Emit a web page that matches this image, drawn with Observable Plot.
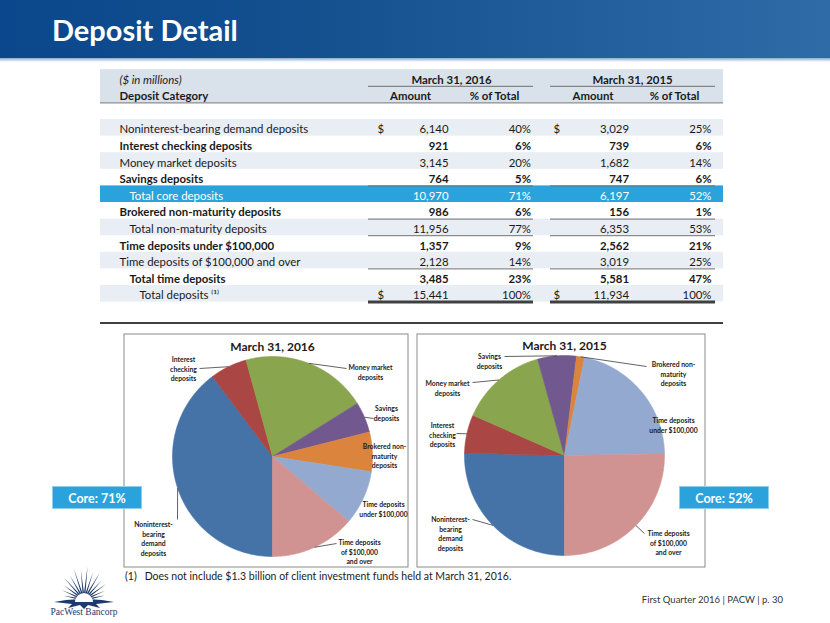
<!DOCTYPE html>
<html>
<head>
<meta charset="utf-8">
<script src="https://cdn.jsdelivr.net/npm/d3@7"></script>
<script src="https://cdn.jsdelivr.net/npm/@observablehq/plot@0.6"></script>
<style>
html,body{margin:0;padding:0;background:#fff;}
#slide{position:relative;width:830px;height:623px;overflow:hidden;font-family:Lato,"Open Sans",sans-serif;background:#fff;}
.abs{position:absolute;}
.banner{position:absolute;left:0;top:0;width:830px;height:58px;background:linear-gradient(90deg,#0a478c 0%,#15518f 40%,#2f6ba7 100%);}
.banner2{position:absolute;left:0;top:58px;width:830px;height:4px;background:linear-gradient(180deg,#8fa9c8,#ffffff);}
.title{position:absolute;left:52px;top:13px;color:#fff;font-weight:700;font-size:29px;line-height:34px;white-space:nowrap;}
.sep{position:absolute;left:100px;top:322px;width:623px;height:2px;background:#3f3f3f;}
.core{position:absolute;width:90px;height:23px;background:#2aa3dc;color:#fff;font-weight:700;font-size:12.5px;line-height:23px;text-align:center;border:1px solid #8fd0ee;box-sizing:border-box;}
.foot{position:absolute;left:125px;top:570px;font-size:10.5px;color:#1a1a1a;white-space:nowrap;}
.pg{position:absolute;right:47px;top:594px;font-size:9.5px;color:#333;white-space:nowrap;}
.plot-svg{overflow:visible;}
</style>
</head>
<body>
<div id="slide">
  <div class="banner"></div>
  <div class="banner2"></div>
  <div class="title" id="title"></div>
  <div id="table" class="abs" style="left:100px;top:66px"></div>
  <div class="sep"></div>
  <div id="pie16" class="abs" style="left:123px;top:333px"></div>
  <div id="pie15" class="abs" style="left:416px;top:333px"></div>
  <div id="core16" class="core" style="left:52px;top:486px"></div>
  <div id="core15" class="core" style="left:679px;top:486px"></div>
  <div id="logo" class="abs" style="left:40px;top:560px"></div>
  <div class="foot" id="foot"></div>
  <div class="pg" id="pg"></div>
</div>
<script>
// ---------- DATA ----------
const slideTitle = "Deposit Detail";
const periods = ["March 31, 2016", "March 31, 2015"];
const unitNote = "($ in millions)";
const categoryHead = "Deposit Category";
const colHeads = ["Amount", "% of Total"];
const rowLabels = [
  "Noninterest-bearing demand deposits",
  "Interest checking deposits",
  "Money market deposits",
  "Savings deposits",
  "Total core deposits",
  "Brokered non-maturity deposits",
  "Total non-maturity deposits",
  "Time deposits under $100,000",
  "Time deposits of $100,000 and over",
  "Total time deposits",
  "Total deposits \u207D\u00B9\u207E"
];
const amount2016 = [6140, 921, 3145, 764, 10970, 986, 11956, 1357, 2128, 3485, 15441];
const pct2016    = [40, 6, 20, 5, 71, 6, 77, 9, 14, 23, 100];
const amount2015 = [3029, 739, 1682, 747, 6197, 156, 6353, 2562, 3019, 5581, 11934];
const pct2015    = [25, 6, 14, 6, 52, 1, 53, 21, 25, 47, 100];
const dollarRows = [0, 10];
const coreLabel = "Core";
const coreRow = 4;

const pieRows = [0, 1, 2, 3, 5, 7, 8];
const pieLabelLines = [
  ["Noninterest-", "bearing", "demand", "deposits"],
  ["Interest", "checking", "deposits"],
  ["Money market", "deposits"],
  ["Savings", "deposits"],
  ["Brokered non-", "maturity", "deposits"],
  ["Time deposits", "under $100,000"],
  ["Time deposits", "of $100,000", "and over"]
];
const footnote = "Does not include $1.3 billion of client investment funds held at March 31, 2016.";
const footnoteMark = "(1)";
const footer = "First Quarter 2016 | PACW | p. 30";
const logoText = "PacWest Bancorp";

// ---------- STYLES / LAYOUT ----------
const rowIndent = [0, 0, 0, 0, 1, 0, 1, 0, 0, 1, 2];
const rowBold   = [0, 1, 0, 1, 0, 1, 0, 1, 0, 1, 0];
const rowShade  = [1, 0, 1, 0, 2, 0, 1, 0, 1, 0, 1]; // 1 light, 2 highlight
const underlineRows = [3, 5, 6, 8];
const thickUnderlineRow = 10;
const pieColors = ["#4572A7", "#AA4643", "#89A54E", "#71588F", "#DB843D", "#93A9CF", "#D19392"];
const COL = {label: 19, indent: 10, dollar16: 277, amt16: 348, pct16: 430.5, dollar15: 453, amt15: 528.5, pct15: 611,
  per16: 351, per15: 532, heads: [310, 394, 492.5, 574], grp16: [268, 433], grp15: [450, 615]};
// label layout relative to pie centre: [text x, first line y, leader end x, leader end y]
const labelLayout2016 = [[-119, 67, -95, 63], [-89, -98, -73, -88], [98, -90, 74, -88], [114, -49, 101, -38], [112, -11, null, null], [111, 47, null, null], [87, 85, 64, 87]];
const labelLayout2015 = [[-114, 63, -92, 64], [-122, -31, -108, -22], [-117, -73, -92, -73], [-75, -100, -60, -99], [109, -92, 82, -89], [109, -36, null, null], [104, 77, 80, 78]];

document.getElementById("title").textContent = slideTitle;

// ---------- TABLE ----------
const fmt = d3.format(",");
const TW = 623, TH = 240;
const items = [];
const add = (x, y, t, anchor, weight, style, fill) => items.push({x, y, t, anchor, weight, style, fill});
add(COL.label, 0.62, unitNote, "start", "normal", "italic", "#1a1a1a");
add(COL.per16, 0.62, periods[0], "middle", "bold", "normal", "#1a1a1a");
add(COL.per15, 0.62, periods[1], "middle", "bold", "normal", "#1a1a1a");
add(COL.label, 1.62, categoryHead, "start", "bold", "normal", "#1a1a1a");
COL.heads.forEach((x, k) => add(x, 1.62, colHeads[k % 2], "middle", "bold", "normal", "#1a1a1a"));
rowLabels.forEach((lab, i) => {
  const y = i + 3 + 0.62;
  const w = rowBold[i] ? "bold" : "normal";
  const f = rowShade[i] === 2 ? "#ffffff" : "#1a1a1a";
  add(COL.label + rowIndent[i] * COL.indent, y, lab, "start", w, "normal", f);
  if (dollarRows.includes(i)) {
    add(COL.dollar16, y, "$", "start", w, "normal", f);
    add(COL.dollar15, y, "$", "start", w, "normal", f);
  }
  add(COL.amt16, y, fmt(amount2016[i]), "end", w, "normal", f);
  add(COL.pct16, y, pct2016[i] + "%", "end", w, "normal", f);
  add(COL.amt15, y, fmt(amount2015[i]), "end", w, "normal", f);
  add(COL.pct15, y, pct2015[i] + "%", "end", w, "normal", f);
});
const textMarks = d3.groups(items, d => d.anchor + "|" + d.weight + "|" + d.style).map(([k, arr]) =>
  Plot.text(arr, {x: "x", y: "y", text: "t", fill: "fill", textAnchor: arr[0].anchor, fontWeight: arr[0].weight,
    fontStyle: arr[0].style, fontSize: 11.4, lineAnchor: "middle"}));

const bands = [{y1: 0, y2: 2, fill: "#d9e1eb"}];
rowShade.forEach((s, i) => { if (s) bands.push({y1: i + 3, y2: i + 4, fill: s === 2 ? "#2aa3dc" : "#e9eef4"}); });
const rules = [
  {y: 1, x1: COL.grp16[0], x2: COL.grp16[1]}, {y: 1, x1: COL.grp15[0], x2: COL.grp15[1]},
  {y: 2, x1: 0, x2: TW}
];
underlineRows.forEach(i => {
  rules.push({y: i + 4, x1: COL.grp16[0], x2: COL.grp16[1]});
  rules.push({y: i + 4, x1: COL.grp15[0], x2: COL.grp15[1]});
});
const thick = [{y: thickUnderlineRow + 4, x1: COL.grp16[0], x2: COL.grp16[1]}, {y: thickUnderlineRow + 4, x1: COL.grp15[0], x2: COL.grp15[1]}];

const table = Plot.plot({
  width: TW, height: TH, margin: 0,
  style: {background: "transparent", fontFamily: "Lato, 'Open Sans', sans-serif", overflow: "visible"},
  x: {domain: [0, TW], range: [0, TW], axis: null},
  y: {domain: [0, 14], range: [3.2, 235.6], axis: null},
  color: {type: "identity"},
  marks: [
    Plot.rect(bands, {x1: () => 0, x2: () => TW, y1: "y1", y2: "y2", fill: "fill"}),
    Plot.ruleY(rules, {y: "y", x1: "x1", x2: "x2", stroke: "#6e6e6e", strokeWidth: 1}),
    Plot.ruleY(thick, {y: "y", x1: "x1", x2: "x2", stroke: "#404040", strokeWidth: 3}),
    ...textMarks
  ]
});
document.getElementById("table").appendChild(table);

// ---------- PIES ----------
const pieCategories = pieRows.map(i => rowLabels[i]);
function pieChart(values, title, layout, W, H, cx, cy) {
  const R = 100;
  const arcs = d3.pie().sort(null).startAngle(Math.PI).endAngle(3 * Math.PI)(values);
  const pts = [];
  arcs.forEach((a, i) => {
    const cat = pieCategories[i];
    pts.push({cat, x: 0, y: 0});
    const n = Math.max(2, Math.ceil((a.endAngle - a.startAngle) / (Math.PI / 360)));
    for (let k = 0; k <= n; k++) {
      const t = a.startAngle + (a.endAngle - a.startAngle) * k / n;
      pts.push({cat, x: R * Math.sin(t), y: -R * Math.cos(t)});
    }
    pts.push({cat, x: 0, y: 0});
  });
  const fs = 6.8, lh = 1.45;
  const labels = arcs.map((a, i) => ({
    t: pieLabelLines[i].join("\n"),
    x: layout[i][0],
    y: layout[i][1] + (pieLabelLines[i].length - 1) * fs * lh / 2
  }));
  const leaders = [];
  arcs.forEach((a, i) => {
    if (layout[i][2] == null) return;
    const m = (a.startAngle + a.endAngle) / 2;
    leaders.push({x1: R * Math.sin(m), y1: -R * Math.cos(m), x2: layout[i][2], y2: layout[i][3]});
  });
  return Plot.plot({
    width: W, height: H, margin: 0,
    style: {background: "transparent", fontFamily: "Lato, 'Open Sans', sans-serif", overflow: "visible"},
    x: {domain: [-cx, W - cx], range: [0, W], axis: null},
    y: {domain: [-cy, H - cy], range: [0, H], axis: null},
    color: {domain: pieCategories, range: pieColors},
    marks: [
      Plot.frame({stroke: "#8a8a8a", fill: "white", inset: 0.5}),
      Plot.line(pts, {x: "x", y: "y", z: "cat", fill: "cat", stroke: "cat", strokeWidth: 0.6}),
      Plot.link(leaders, {x1: "x1", y1: "y1", x2: "x2", y2: "y2", stroke: "#3a3a3a", strokeWidth: 0.8}),
      Plot.text(labels, {x: "x", y: "y", text: "t", fontSize: fs, fontWeight: "bold", lineHeight: lh, fill: "#1a1a1a", lineAnchor: "middle"}),
      Plot.text([{t: title, x: 0, y: -109}], {x: "x", y: "y", text: "t", fontSize: 12, fontWeight: "bold", fill: "#1a1a1a", lineAnchor: "middle"})
    ]
  });
}
const v16 = pieRows.map(i => amount2016[i]);
const v15 = pieRows.map(i => amount2015[i]);
document.getElementById("pie16").appendChild(pieChart(v16, periods[0], labelLayout2016, 285, 234, 149, 123));
document.getElementById("pie15").appendChild(pieChart(v15, periods[1], labelLayout2015, 289, 234, 148, 122));

document.getElementById("core16").textContent = `${coreLabel}: ${pct2016[coreRow]}%`;
document.getElementById("core15").textContent = `${coreLabel}: ${pct2015[coreRow]}%`;

document.getElementById("foot").innerHTML = `<span style="margin-right:8px">${footnoteMark}</span>` + footnote.replace(/&/g, "&amp;");
document.getElementById("pg").textContent = footer;

// ---------- LOGO (decorative) ----------
(function () {
  const ns = "http://www.w3.org/2000/svg";
  const svg = document.createElementNS(ns, "svg");
  svg.setAttribute("width", 90); svg.setAttribute("height", 63);
  const cx = 44, cy = 40;
  let p = [];
  const n = 30;
  for (let k = 0; k <= n; k++) {
    const a = Math.PI + Math.PI * k / n;
    const long = k % 2 === 0;
    const up = Math.abs(Math.sin(a));
    const r = long ? (18 + 16 * up * (k % 4 === 0 ? 1 : 0.75)) : 7;
    p.push([cx + r * Math.cos(a), cy + r * Math.sin(a) * 1.0]);
  }
  const lower = [[cx + 30, cy + 2], [cx + 12, cy + 4], [cx + 16, cy + 8], [cx + 4, cy + 5], [cx, cy + 9], [cx - 4, cy + 5], [cx - 16, cy + 8], [cx - 12, cy + 4], [cx - 30, cy + 2]];
  p = p.concat(lower);
  const poly = document.createElementNS(ns, "polygon");
  poly.setAttribute("points", p.map(d => d.join(",")).join(" "));
  poly.setAttribute("fill", "#1d3a6c");
  svg.appendChild(poly);
  const disc = document.createElementNS(ns, "path");
  disc.setAttribute("d", `M${cx - 9},${cy + 2} A9,9 0 0 1 ${cx + 9},${cy + 2} Z`);
  disc.setAttribute("fill", "#ffffff");
  svg.appendChild(disc);
  const t = document.createElementNS(ns, "text");
  t.setAttribute("x", cx); t.setAttribute("y", 55);
  t.setAttribute("text-anchor", "middle");
  t.setAttribute("font-family", "'Liberation Serif', 'DejaVu Serif', serif");
  t.setAttribute("font-size", "9.5");
  t.setAttribute("fill", "#1d3a6c");
  t.textContent = logoText;
  svg.appendChild(t);
  document.getElementById("logo").appendChild(svg);
})();
</script>
</body>
</html>
